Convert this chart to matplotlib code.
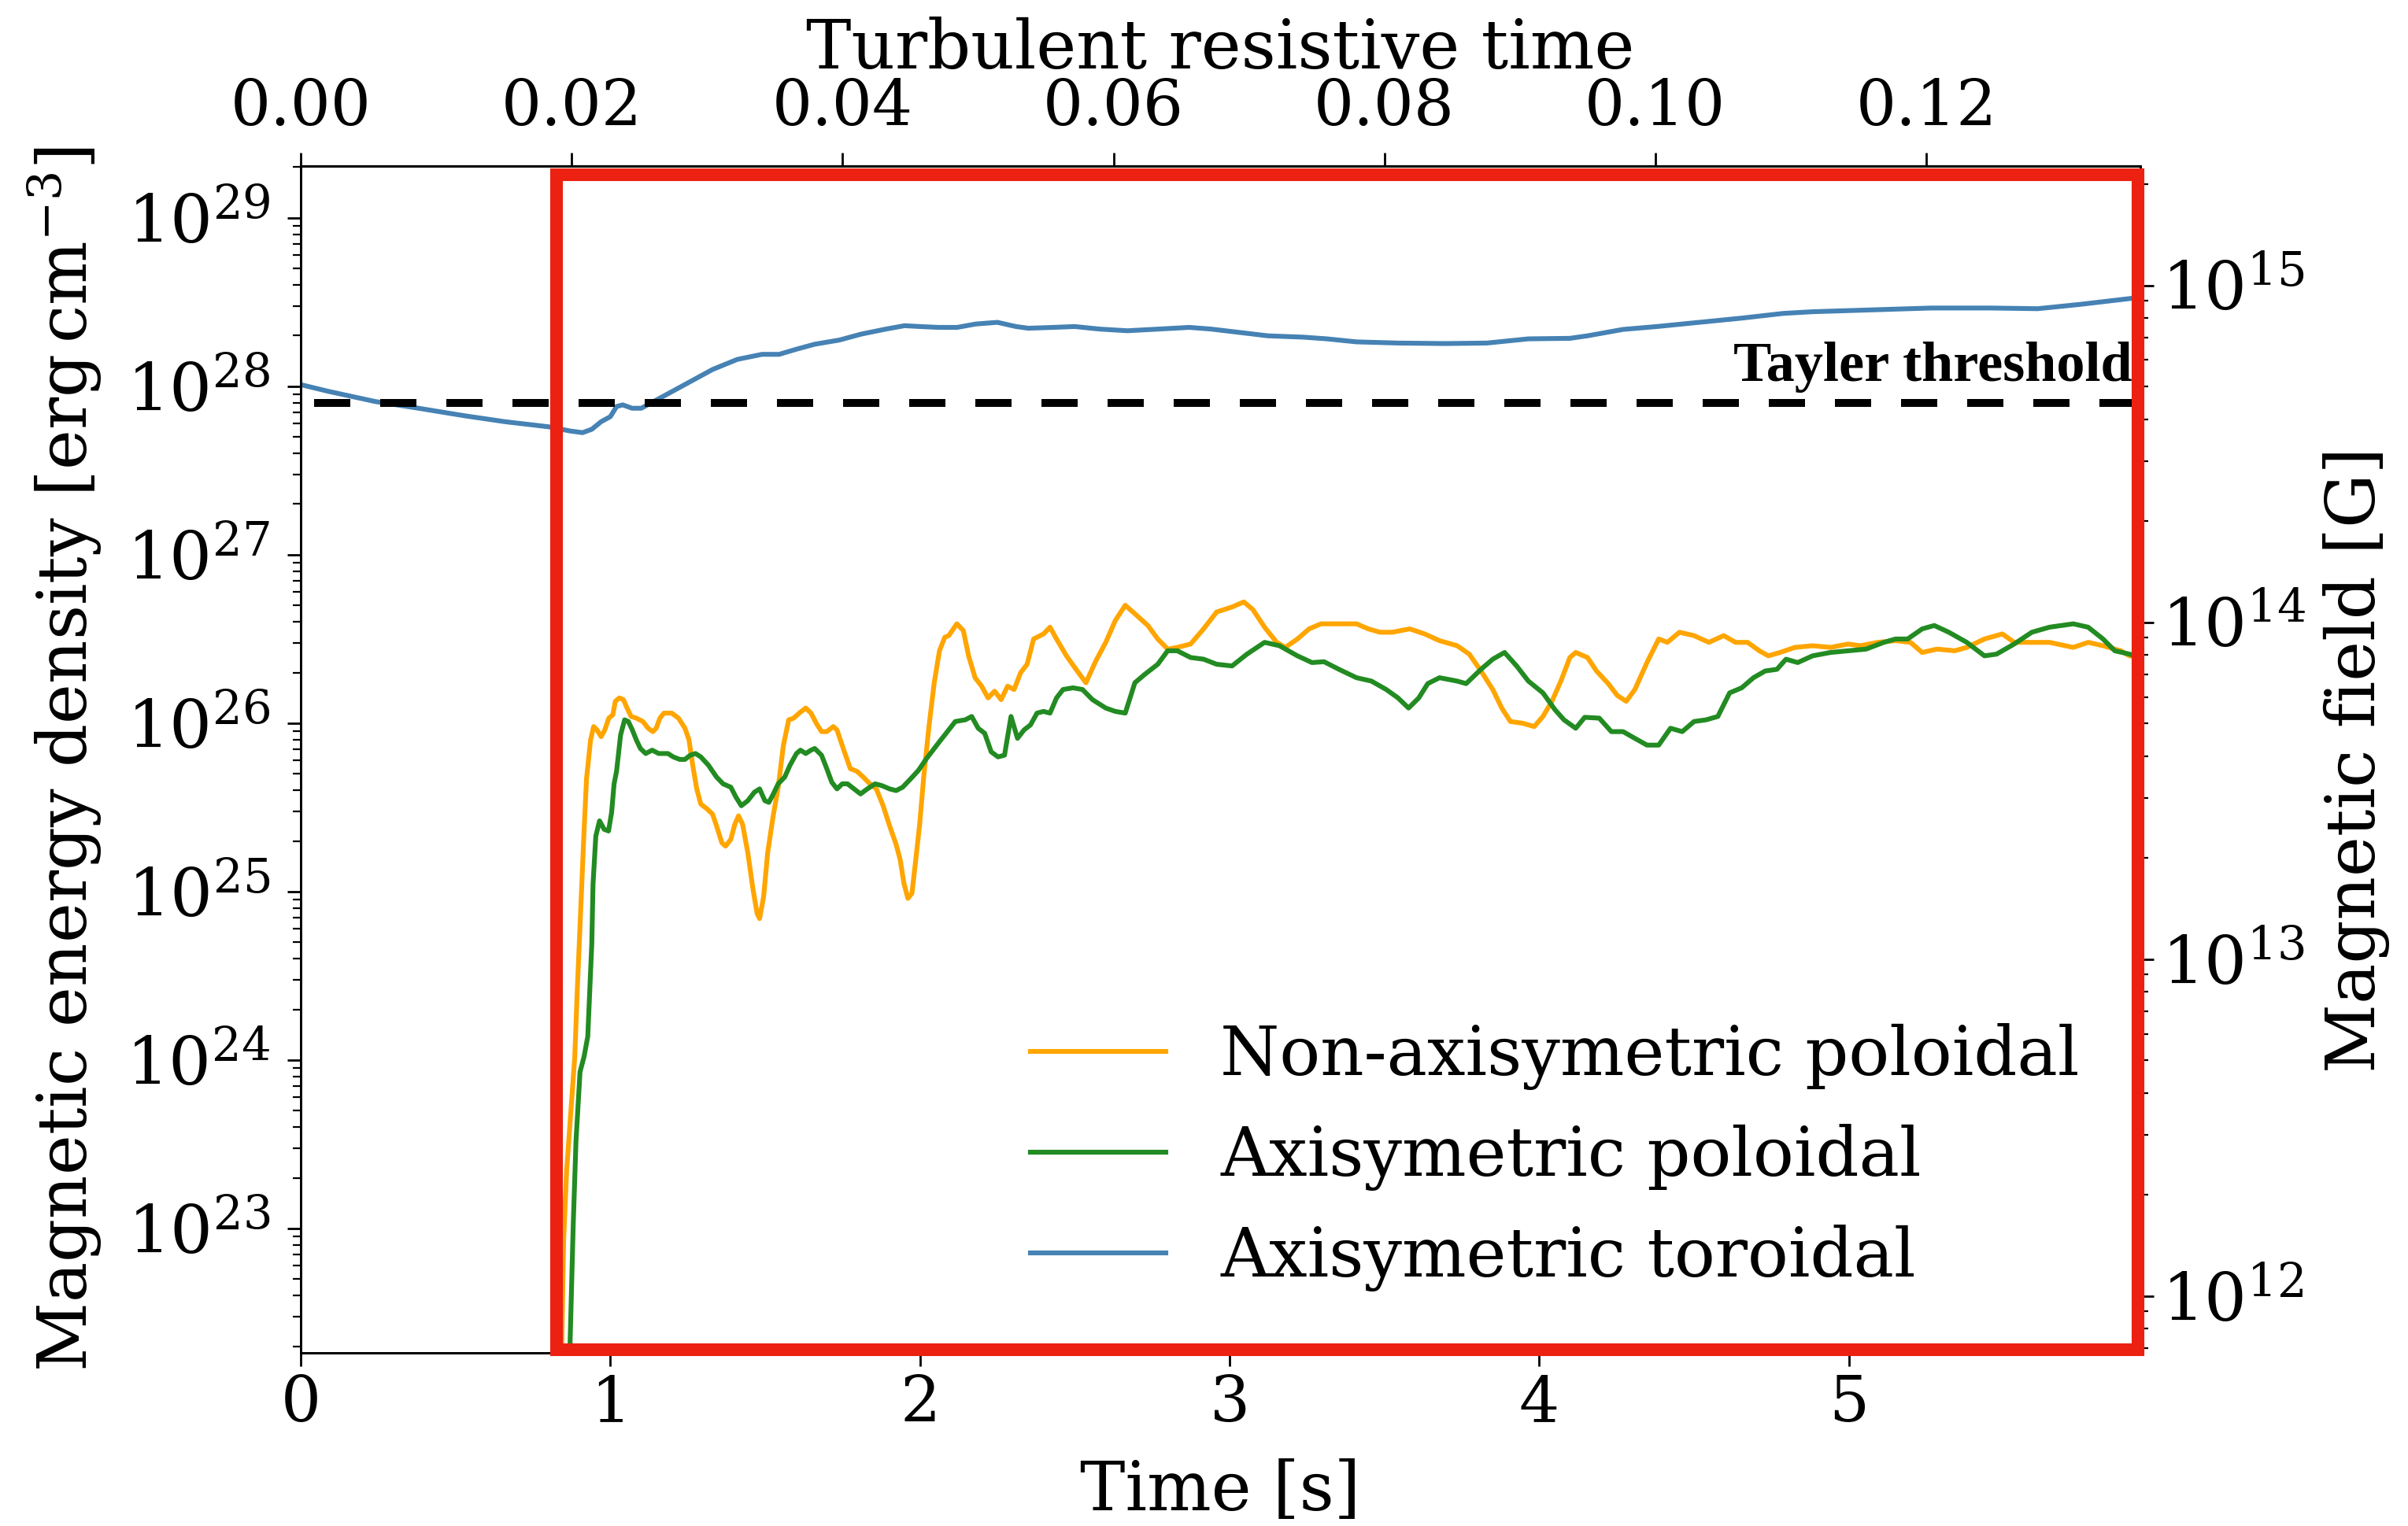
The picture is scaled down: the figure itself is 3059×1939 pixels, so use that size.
import matplotlib
matplotlib.use("Agg")
import matplotlib.pyplot as plt
import numpy as np
from matplotlib.patches import Rectangle

# time [s] and log10 of the magnetic energy density [erg cm^-3]
t_nonaxi = [0.835, 0.849, 0.859, 0.885, 0.893, 0.906, 0.915, 0.923, 0.936, 0.946, 0.957, 0.970,
            0.982, 0.995, 1.008, 1.016, 1.029, 1.042, 1.054, 1.067, 1.084, 1.105, 1.122, 1.137,
            1.148, 1.160, 1.173, 1.198, 1.220, 1.241, 1.254, 1.266, 1.279, 1.292, 1.313, 1.330,
            1.343, 1.360, 1.372, 1.389, 1.402, 1.414, 1.427, 1.444, 1.461, 1.474, 1.482, 1.495,
            1.508, 1.525, 1.542, 1.559, 1.576, 1.592, 1.610, 1.631, 1.648, 1.665, 1.682, 1.699,
            1.720, 1.732, 1.754, 1.775, 1.796, 1.817, 1.838, 1.859, 1.881, 1.902, 1.923, 1.936,
            1.948, 1.961, 1.974, 1.987, 1.999, 2.012, 2.029, 2.046, 2.063, 2.080, 2.093, 2.119,
            2.140, 2.157, 2.178, 2.199, 2.220, 2.241, 2.262, 2.283, 2.304, 2.325, 2.346, 2.367,
            2.399, 2.420, 2.441, 2.473, 2.504, 2.536, 2.568, 2.600, 2.631, 2.663, 2.694, 2.736,
            2.768, 2.800, 2.831, 2.874, 2.916, 2.958, 3.008, 3.046, 3.075, 3.113, 3.152, 3.180,
            3.219, 3.257, 3.295, 3.353, 3.410, 3.448, 3.486, 3.525, 3.582, 3.630, 3.678, 3.735,
            3.774, 3.812, 3.850, 3.879, 3.907, 3.946, 3.984, 4.012, 4.041, 4.070, 4.099, 4.118,
            4.156, 4.185, 4.223, 4.252, 4.281, 4.309, 4.348, 4.386, 4.414, 4.453, 4.500, 4.548,
            4.596, 4.634, 4.673, 4.711, 4.740, 4.778, 4.826, 4.883, 4.941, 4.998, 5.037, 5.094,
            5.151, 5.199, 5.237, 5.285, 5.342, 5.381, 5.438, 5.496, 5.534, 5.591, 5.648, 5.725,
            5.773, 5.821, 5.878, 5.907, 5.940]
loge_nonaxi = [21.50, 22.93, 23.35, 24.02, 24.41, 24.97, 25.36, 25.67, 25.90, 25.98, 25.96, 25.92,
               25.96, 26.03, 26.05, 26.13, 26.15, 26.14, 26.09, 26.04, 26.03, 26.01, 25.97, 25.95,
               25.97, 26.03, 26.06, 26.06, 26.03, 25.97, 25.90, 25.75, 25.61, 25.52, 25.49, 25.46,
               25.39, 25.29, 25.27, 25.31, 25.40, 25.45, 25.40, 25.23, 25.01, 24.87, 24.84, 24.97,
               25.23, 25.44, 25.62, 25.87, 26.02, 26.03, 26.06, 26.09, 26.06, 26.00, 25.95, 25.95,
               25.98, 25.96, 25.84, 25.73, 25.715, 25.68, 25.64, 25.61, 25.51, 25.39, 25.28, 25.19,
               25.05, 24.96, 24.99, 25.20, 25.40, 25.68, 25.98, 26.24, 26.43, 26.51, 26.52, 26.59,
               26.55, 26.40, 26.27, 26.22, 26.15, 26.19, 26.14, 26.22, 26.20, 26.30, 26.35, 26.50,
               26.53, 26.57, 26.50, 26.40, 26.32, 26.24, 26.37, 26.48, 26.61, 26.70, 26.65, 26.58,
               26.50, 26.44, 26.45, 26.47, 26.56, 26.66, 26.69, 26.72, 26.675, 26.57, 26.48, 26.45,
               26.50, 26.56, 26.59, 26.59, 26.59, 26.56, 26.54, 26.54, 26.56, 26.53, 26.49, 26.46,
               26.41, 26.31, 26.20, 26.09, 26.01, 26.00, 25.98, 26.04, 26.13, 26.25, 26.39, 26.42,
               26.39, 26.31, 26.235, 26.165, 26.13, 26.20, 26.36, 26.50, 26.48, 26.54, 26.52, 26.48,
               26.52, 26.48, 26.48, 26.43, 26.40, 26.42, 26.45, 26.46, 26.45, 26.47, 26.46, 26.48,
               26.49, 26.48, 26.42, 26.44, 26.43, 26.45, 26.50, 26.53, 26.48, 26.48, 26.48, 26.45,
               26.48, 26.46, 26.43, 26.40, 26.39]

t_axipol = [0.868, 0.870, 0.880, 0.889, 0.902, 0.915, 0.927, 0.940, 0.944, 0.953, 0.965, 0.980,
            0.994, 1.004, 1.012, 1.020, 1.033, 1.046, 1.058, 1.071, 1.084, 1.097, 1.114, 1.135,
            1.156, 1.173, 1.186, 1.203, 1.224, 1.241, 1.258, 1.275, 1.292, 1.317, 1.343, 1.364,
            1.389, 1.406, 1.423, 1.444, 1.465, 1.482, 1.499, 1.512, 1.525, 1.542, 1.563, 1.580,
            1.601, 1.614, 1.631, 1.648, 1.660, 1.682, 1.699, 1.715, 1.732, 1.749, 1.766, 1.787,
            1.808, 1.830, 1.855, 1.876, 1.902, 1.923, 1.944, 1.970, 1.995, 2.021, 2.046, 2.067,
            2.080, 2.114, 2.146, 2.167, 2.188, 2.209, 2.230, 2.252, 2.273, 2.294, 2.315, 2.336,
            2.357, 2.378, 2.399, 2.420, 2.441, 2.462, 2.494, 2.525, 2.557, 2.600, 2.631, 2.663,
            2.694, 2.726, 2.768, 2.800, 2.831, 2.874, 2.916, 2.958, 3.008, 3.056, 3.113, 3.161,
            3.219, 3.266, 3.305, 3.353, 3.410, 3.458, 3.506, 3.544, 3.578, 3.611, 3.640, 3.678,
            3.735, 3.764, 3.812, 3.850, 3.888, 3.927, 3.965, 4.012, 4.051, 4.080, 4.118, 4.147,
            4.194, 4.233, 4.271, 4.309, 4.348, 4.386, 4.424, 4.462, 4.500, 4.539, 4.577, 4.615,
            4.654, 4.692, 4.730, 4.768, 4.797, 4.835, 4.883, 4.941, 4.998, 5.056, 5.113, 5.151,
            5.190, 5.237, 5.276, 5.323, 5.381, 5.438, 5.477, 5.534, 5.591, 5.648, 5.725, 5.773,
            5.821, 5.859, 5.907, 5.940]
loge_axipol = [21.50, 22.33, 23.02, 23.52, 23.93, 24.02, 24.14, 24.69, 25.045, 25.33, 25.42, 25.37,
               25.36, 25.47, 25.64, 25.715, 25.93, 26.02, 26.01, 25.96, 25.90, 25.85, 25.82, 25.84,
               25.82, 25.82, 25.82, 25.80, 25.785, 25.785, 25.81, 25.82, 25.80, 25.75, 25.68, 25.64,
               25.62, 25.56, 25.51, 25.54, 25.59, 25.61, 25.54, 25.53, 25.575, 25.64, 25.68, 25.75,
               25.82, 25.84, 25.82, 25.84, 25.85, 25.81, 25.73, 25.65, 25.61, 25.64, 25.64, 25.61,
               25.58, 25.61, 25.64, 25.63, 25.61, 25.60, 25.62, 25.67, 25.72, 25.79, 25.85, 25.90,
               25.93, 26.01, 26.02, 26.04, 25.97, 25.94, 25.83, 25.80, 25.81, 26.04, 25.91, 25.96,
               25.99, 26.06, 26.07, 26.06, 26.15, 26.20, 26.21, 26.20, 26.14, 26.09, 26.07, 26.06,
               26.24, 26.29, 26.35, 26.43, 26.43, 26.39, 26.38, 26.35, 26.34, 26.41, 26.48, 26.46,
               26.40, 26.36, 26.365, 26.32, 26.27, 26.25, 26.20, 26.15, 26.09, 26.15, 26.235, 26.27,
               26.25, 26.235, 26.32, 26.38, 26.42, 26.34, 26.25, 26.18, 26.08, 26.02, 25.97, 26.035,
               26.03, 25.95, 25.95, 25.91, 25.87, 25.87, 25.97, 25.95, 26.01, 26.02, 26.04, 26.18,
               26.21, 26.27, 26.31, 26.32, 26.38, 26.36, 26.40, 26.42, 26.43, 26.44, 26.48, 26.50,
               26.50, 26.56, 26.58, 26.54, 26.48, 26.40, 26.41, 26.47, 26.54, 26.57, 26.59, 26.57,
               26.50, 26.43, 26.41, 26.39]

t_axitor = [0.00, 0.09, 0.24, 0.38, 0.53, 0.66, 0.80, 0.87, 0.91, 0.94, 0.97, 1.00, 1.02, 1.04,
            1.07, 1.10, 1.12, 1.18, 1.26, 1.33, 1.41, 1.49, 1.545, 1.60, 1.66, 1.74, 1.81, 1.89,
            1.95, 2.00, 2.06, 2.12, 2.18, 2.25, 2.31, 2.35, 2.43, 2.50, 2.58, 2.67, 2.77, 2.87,
            2.94, 3.046, 3.123, 3.238, 3.314, 3.410, 3.544, 3.697, 3.831, 3.965, 4.099, 4.156,
            4.271, 4.386, 4.500, 4.654, 4.788, 4.883, 5.075, 5.266, 5.457, 5.610, 5.744, 5.907,
            5.940]
loge_axitor = [28.01, 27.97, 27.91, 27.87, 27.825, 27.79, 27.76, 27.735, 27.725, 27.745, 27.79,
               27.82, 27.88, 27.89, 27.87, 27.87, 27.89, 27.95, 28.03, 28.10, 28.16, 28.19, 28.19,
               28.22, 28.25, 28.275, 28.31, 28.34, 28.36, 28.355, 28.35, 28.35, 28.37, 28.38,
               28.355, 28.345, 28.35, 28.355, 28.34, 28.33, 28.34, 28.35, 28.34, 28.317, 28.30,
               28.292, 28.282, 28.264, 28.257, 28.254, 28.257, 28.282, 28.285, 28.30, 28.338,
               28.356, 28.377, 28.405, 28.433, 28.443, 28.454, 28.465, 28.465, 28.461, 28.486,
               28.521, 28.53]

labels = ["Non-axisymetric poloidal", "Axisymetric poloidal", "Axisymetric toroidal"]
colors = ["orange", "forestgreen", "steelblue"]

tayler_loge = 27.90
t_per_resistive = 43.75   # seconds per turbulent resistive time
fontsize = 31
ticksize = 29

plt.rcParams["font.family"] = "serif"
plt.rcParams["font.serif"] = ["DejaVu Serif"]
plt.rcParams["mathtext.fontset"] = "dejavuserif"
plt.rcParams["font.size"] = fontsize
plt.rcParams["xtick.labelsize"] = ticksize
plt.rcParams["ytick.labelsize"] = 30.5


def e_to_b(e):
    return np.sqrt(8 * np.pi * e)


def main():
    fig = plt.figure(figsize=(15.295, 9.695), dpi=200)
    ax = fig.add_axes([0.1249, 0.1135, 0.8889 - 0.1249, 0.8912 - 0.1135])

    series = [(t_nonaxi, loge_nonaxi), (t_axipol, loge_axipol), (t_axitor, loge_axitor)]
    for (t, le), lab, col in zip(series, labels, colors):
        ax.plot(t, 10 ** np.array(le), color=col, lw=2.2, label=lab)

    ax.axhline(10 ** tayler_loge, color="black", lw=3.6, linestyle=(6.7, (4.6, 3.8)))
    ax.text(5.915, 10 ** 28.03, "Tayler threshold", ha="right", va="baseline",
            family="Liberation Serif", weight="bold", size=26)

    ax.set_yscale("log")
    ax.set_xlim(0, 5.942)
    ylo, yhi = 10 ** 22.262, 10 ** 29.308
    ax.set_ylim(ylo, yhi)
    ax.set_xticks([0, 1, 2, 3, 4, 5])
    ax.set_xlabel("Time [s]", labelpad=11)
    ax.set_ylabel(r"Magnetic energy density [$\mathrm{erg\,cm^{-3}}$]", labelpad=10)

    ax2 = ax.twinx()
    ax2.set_yscale("log")
    ax2.set_ylim(e_to_b(ylo), e_to_b(yhi))
    ax2.set_ylabel("Magnetic field [G]", labelpad=8)

    top = ax.secondary_xaxis("top", functions=(lambda x: x / t_per_resistive,
                                               lambda x: x * t_per_resistive))
    top.set_xticks([0.0, 0.02, 0.04, 0.06, 0.08, 0.10, 0.12])
    top.set_xticklabels(["%.2f" % v for v in [0.0, 0.02, 0.04, 0.06, 0.08, 0.10, 0.12]])
    top.set_xlabel("Turbulent resistive time", labelpad=4)

    for a in (ax, ax2, top):
        a.tick_params(which="major", length=6, width=1.0)
        a.tick_params(which="minor", length=3.5, width=0.8)
    ax.tick_params(axis="y", pad=8)
    top.tick_params(axis="x", pad=6.5)
    for a in (ax, ax2):
        for s in a.spines.values():
            s.set_linewidth(1.0)

    ax.legend(loc="lower right", frameon=False, handlelength=2.0, fontsize=fontsize)

    # red highlight box drawn over the axes
    box = Rectangle((0.139, 0.0027), 0.9987 - 0.139, 0.9927 - 0.0027, transform=ax.transAxes,
                    fill=False, edgecolor="#ec2111", lw=5.8, clip_on=False, zorder=10,
                    joinstyle="miter")
    ax2.add_patch(box)
    box.set_transform(ax.transAxes)

    fig.savefig("out.png", dpi=200)


main()
